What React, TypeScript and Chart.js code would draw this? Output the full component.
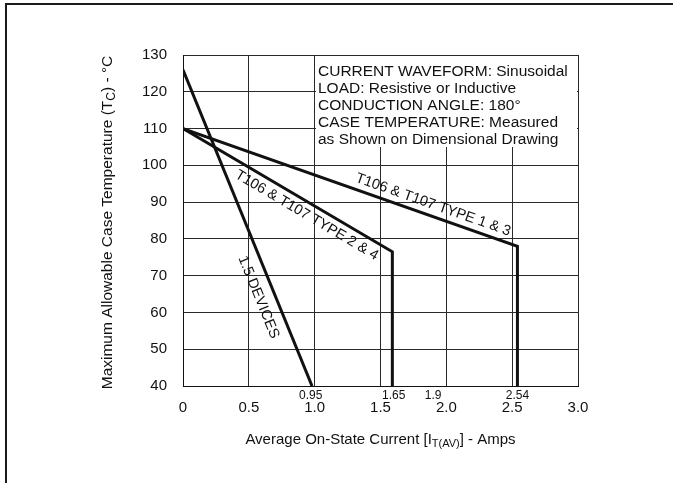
import React, { useEffect, useRef } from "react";
import { Chart, registerables } from "chart.js";

Chart.register(...registerables);

// ---------- data ----------
const xTickLabels = ["0", "0.5", "1.0", "1.5", "2.0", "2.5", "3.0"];
const yTickValues = [40, 50, 60, 70, 80, 90, 100, 110, 120, 130];

const devices15 = [
  { x: 0, y: 126 },
  { x: 0.98, y: 40 },
];
const type24 = [
  { x: 0, y: 110 },
  { x: 1.59, y: 76.5 },
  { x: 1.59, y: 40 },
];
const type13 = [
  { x: 0, y: 110 },
  { x: 2.54, y: 78 },
  { x: 2.54, y: 40 },
];

const markerValues = [0.97, 1.6, 1.9, 2.54];
const markerLabels = ["0.95", "1.65", "1.9", "2.54"];

const conditionLines = [
  "CURRENT WAVEFORM: Sinusoidal",
  "LOAD: Resistive or Inductive",
  "CONDUCTION ANGLE: 180°",
  "CASE TEMPERATURE: Measured",
  "as Shown on Dimensional Drawing",
];
const boxXRange = [1.0, 3.0];
const boxYRange = [105, 130];

const lineLabels = [
  { text: "T106 & T107 TYPE 1 & 3", series: 2, frac: 0.737, offset: -11 },
  { text: "T106 & T107 TYPE 2 & 4", series: 1, frac: 0.62, offset: 12 },
  { text: "1.5 DEVICES", series: 0, frac: 0.7, offset: 16 },
];

const FONT = "'Liberation Sans', Arial, Helvetica, sans-serif";
const INK = "#111";

type Part = { text: string; sub?: boolean };

function drawRich(ctx: CanvasRenderingContext2D, parts: Part[], cx: number, cy: number, size: number) {
  const subSize = Math.round(size * 0.75);
  let total = 0;
  const widths = parts.map((p) => {
    ctx.font = `${p.sub ? subSize : size}px ${FONT}`;
    const w = ctx.measureText(p.text).width;
    total += w;
    return w;
  });
  let x = cx - total / 2;
  ctx.textAlign = "left";
  ctx.textBaseline = "middle";
  parts.forEach((p, i) => {
    ctx.font = `${p.sub ? subSize : size}px ${FONT}`;
    ctx.fillText(p.text, x, p.sub ? cy + 4 : cy);
    x += widths[i];
  });
}

const decorPlugin = {
  id: "decor",
  beforeDatasetsDraw(chart: any) {
    const { ctx, scales } = chart;
    const xs = scales.x;
    const ys = scales.y;
    const xl = Math.round(xs.getPixelForValue(boxXRange[0]));
    const xr = Math.round(xs.getPixelForValue(boxXRange[1]));
    const yt = Math.round(ys.getPixelForValue(boxYRange[1]));
    const yb = Math.round(ys.getPixelForValue(boxYRange[0]));
    ctx.save();
    ctx.fillStyle = "#fff";
    ctx.fillRect(xl + 1, yt + 1, xr - xl - 2, yb - yt - 1);
    ctx.fillStyle = INK;
    ctx.font = `15.5px ${FONT}`;
    ctx.textAlign = "left";
    ctx.textBaseline = "alphabetic";
    conditionLines.forEach((t, i) => {
      ctx.fillText(t, xl + 3, yt + 21 + i * 17);
    });
    ctx.restore();
  },
  afterDatasetsDraw(chart: any) {
    const { ctx, scales } = chart;
    const xs = scales.x;
    const ys = scales.y;
    const all = [devices15, type24, type13];
    ctx.save();
    ctx.fillStyle = INK;
    ctx.font = `14.5px ${FONT}`;
    ctx.textAlign = "center";
    ctx.textBaseline = "middle";
    lineLabels.forEach((lb) => {
      const pts = all[lb.series];
      const x0 = xs.getPixelForValue(pts[0].x);
      const y0 = ys.getPixelForValue(pts[0].y);
      const x1 = xs.getPixelForValue(pts[1].x);
      const y1 = ys.getPixelForValue(pts[1].y);
      const ang = Math.atan2(y1 - y0, x1 - x0);
      const cx = x0 + (x1 - x0) * lb.frac;
      const cy = y0 + (y1 - y0) * lb.frac;
      ctx.save();
      ctx.translate(cx, cy);
      ctx.rotate(ang);
      ctx.fillText(lb.text, 0, lb.offset);
      ctx.restore();
    });
    // marker labels under the axis
    ctx.font = `12px ${FONT}`;
    const bottom = chart.chartArea.bottom;
    markerValues.forEach((v, i) => {
      ctx.fillText(markerLabels[i], xs.getPixelForValue(v), bottom + 10);
    });
    ctx.restore();
  },
  afterDraw(chart: any) {
    const { ctx, chartArea } = chart;
    ctx.save();
    ctx.fillStyle = INK;
    // x title
    drawRich(
      ctx,
      [
        { text: "Average On-State Current [I" },
        { text: "T(AV)", sub: true },
        { text: "] - Amps" },
      ],
      (chartArea.left + chartArea.right) / 2,
      440,
      15
    );
    // y title
    ctx.save();
    ctx.translate(108, (chartArea.top + chartArea.bottom) / 2 + 2);
    ctx.rotate(-Math.PI / 2);
    drawRich(
      ctx,
      [
        { text: "Maximum Allowable Case Temperature (T" },
        { text: "C", sub: true },
        { text: ") - °C" },
      ],
      0,
      0,
      15.5
    );
    ctx.restore();
    // outer frame (top and left edges)
    ctx.fillStyle = "#1a1a1a";
    ctx.fillRect(5, 3, 668, 2);
    ctx.fillRect(5, 3, 2, 480);
    ctx.restore();
  },
};

export default function App() {
  const ref = useRef<HTMLCanvasElement | null>(null);

  useEffect(() => {
    if (!ref.current) return;
    const lineStyle = {
      borderColor: INK,
      backgroundColor: INK,
      borderWidth: 3,
      pointRadius: 0,
      showLine: true,
      fill: false,
      tension: 0,
      borderJoinStyle: "miter" as const,
    };
    const chart = new Chart(ref.current, {
      type: "scatter",
      data: {
        datasets: [
          { label: "1.5 DEVICES", data: devices15, ...lineStyle },
          { label: "T106 & T107 TYPE 2 & 4", data: type24, ...lineStyle },
          { label: "T106 & T107 TYPE 1 & 3", data: type13, ...lineStyle },
        ],
      },
      options: {
        responsive: false,
        animation: false,
        events: [],
        layout: { padding: { top: 55, right: 95, left: 0, bottom: 0 } },
        plugins: {
          legend: { display: false },
          tooltip: { enabled: false },
          title: { display: false },
        },
        scales: {
          x: {
            type: "linear",
            min: 0,
            max: 3,
            ticks: {
              stepSize: 0.5,
              padding: 13,
              color: INK,
              font: { family: FONT, size: 15 },
              maxRotation: 0,
              callback: (_v: any, i: number) => xTickLabels[i],
            },
            grid: { color: "#2a2a2a", lineWidth: 1, drawTicks: false },
            border: { color: INK, width: 1 },
            afterFit: (s: any) => {
              s.height = 97;
            },
          },
          y: {
            type: "linear",
            min: yTickValues[0],
            max: yTickValues[yTickValues.length - 1],
            ticks: {
              stepSize: 10,
              padding: 16,
              color: INK,
              font: { family: FONT, size: 15 },
            },
            grid: { color: "#2a2a2a", lineWidth: 1, drawTicks: false },
            border: { color: INK, width: 1 },
            afterFit: (s: any) => {
              s.width = 183;
            },
          },
        },
      },
      plugins: [decorPlugin],
    });
    return () => chart.destroy();
  }, []);

  return (
    <div style={{ position: "fixed", left: 0, top: 0, width: 673, height: 483, background: "#fff" }}>
      <canvas ref={ref} width={673} height={483} style={{ display: "block" }} />
    </div>
  );
}
